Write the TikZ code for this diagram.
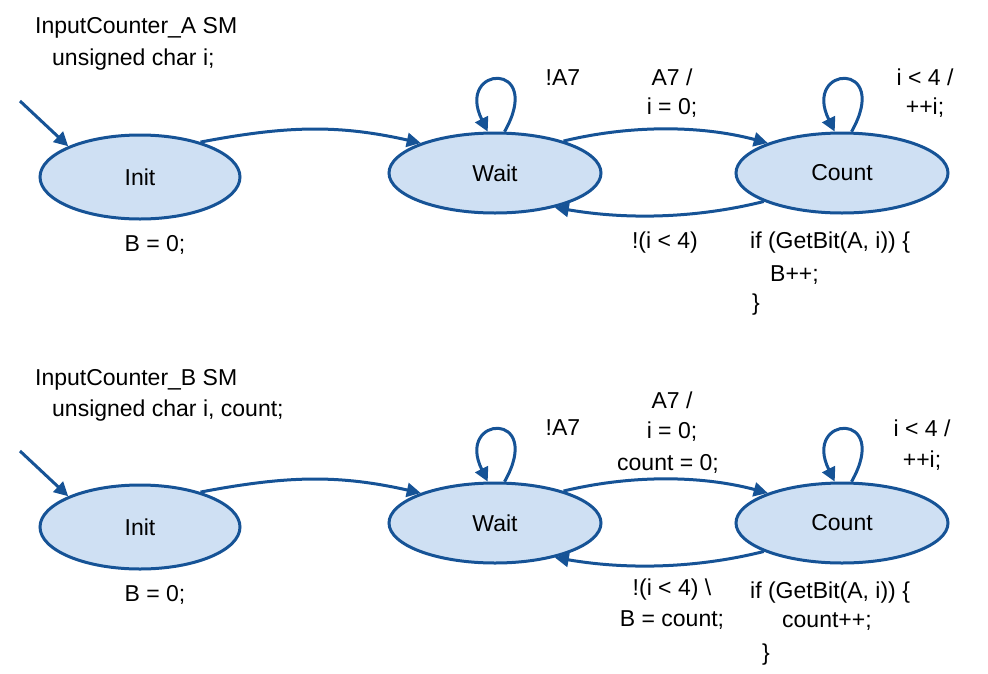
\documentclass[tikz,border=0pt]{standalone}
\usepackage{fontspec}
\setmainfont{Liberation Sans}
\usetikzlibrary{arrows.meta,shapes.geometric}
\definecolor{fillb}{RGB}{207,224,243}
\definecolor{edge}{RGB}{22,83,150}
\begin{document}
\begin{tikzpicture}[x=1pt,y=-1pt,
  st/.style={ellipse,draw=edge,fill=fillb,line width=3pt,minimum width=212pt,minimum height=80pt,font=\fontsize{23}{26}\selectfont},
  tx/.style={font=\fontsize{23}{26}\selectfont,inner sep=0pt},
  ar/.style={draw=edge,line width=3pt,-{Triangle[length=14pt,width=14pt]}}]
\useasboundingbox (0,0) rectangle (988,673);
\foreach \p/\dy in {a/0,b/350}{
  \node[st,minimum width=200pt,minimum height=84pt] (init\p) at (140,177+\dy) {Init};
  \node[st] (wait\p) at (495,173+\dy) {Wait};
  \node[st] (count\p) at (842,173+\dy) {Count};
  \coordinate (start\p) at (20,101+\dy);
  \draw[ar] (start\p) -- (init\p.north west);
  \draw[ar] (init\p.30) .. controls (290,125+\dy) and (340,125+\dy) .. (wait\p.158);
  \draw[ar] (wait\p.77) .. controls (545,60+\dy) and (455,65+\dy) .. (wait\p.100);
  \draw[ar] (count\p.77) .. controls (892,60+\dy) and (802,65+\dy) .. (count\p.100);
  \draw[ar] (wait\p.25) .. controls (630,125+\dy) and (700,125+\dy) .. (count\p.158);
  \draw[ar] (count\p.200) .. controls (710,215+\dy) and (640,222+\dy) .. (wait\p.-30);
  \node[tx] (na\p) at (563,78+\dy) {!A7};
  \node[tx] (b\p) at (155,245+\dy) {B = 0;};
}
\node[tx,anchor=west] (ha1) at (35,28) {InputCounter\_A SM};
\node[tx,anchor=west] (ha2) at (52,60) {unsigned char i;};
\node[tx] (l1) at (672,77) {A7 /};
\node[tx] (l2) at (672,108) {i = 0;};
\node[tx] (l3) at (925,77) {i < 4 /};
\node[tx] (l4) at (925,108) {++i;};
\node[tx] (l5) at (665,243) {!(i < 4)};
\node[tx,anchor=west] (l6) at (750,243) {if (GetBit(A, i)) \{};
\node[tx,anchor=west] (l7) at (770,275) {B++;};
\node[tx,anchor=west] (l8) at (752,305) {\}};
\node[tx,anchor=west] (hb1) at (35,380) {InputCounter\_B SM};
\node[tx,anchor=west] (hb2) at (52,411) {unsigned char i, count;};
\node[tx] (m1) at (672,400) {A7 /};
\node[tx] (m2) at (672,432) {i = 0;};
\node[tx] (m3) at (668,464) {count = 0;};
\node[tx] (m4) at (922,428) {i < 4 /};
\node[tx] (m5) at (922,461) {++i;};
\node[tx] (m6) at (672,590) {!(i < 4) \textbackslash};
\node[tx] (m7) at (672,620) {B = count;};
\node[tx,anchor=west] (m8) at (750,593) {if (GetBit(A, i)) \{};
\node[tx,anchor=west] (m9) at (782,622) {count++;};
\node[tx,anchor=west] (m10) at (762,655) {\}};
\end{tikzpicture}
\end{document}
